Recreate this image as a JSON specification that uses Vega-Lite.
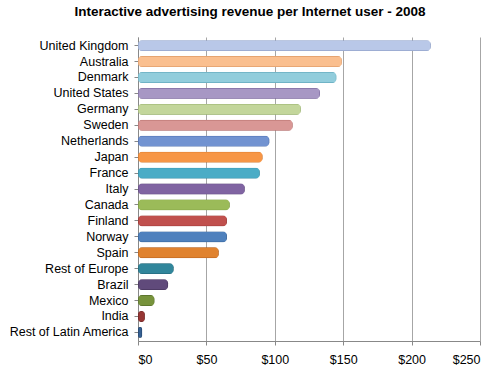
{
  "$schema": "https://vega.github.io/schema/vega-lite/v6.json",
  "autosize": "none",
  "width": 342,
  "height": 304,
  "padding": {"left": 138, "top": 37, "right": 20, "bottom": 32},
  "background": "white",
  "title": {
    "text": "Interactive advertising revenue per Internet user - 2008",
    "font": "Liberation Sans",
    "fontSize": 13.5,
    "fontWeight": "bold",
    "color": "#000000",
    "anchor": "middle",
    "frame": "group",
    "dx": -59,
    "offset": 19
  },
  "data": {
    "values": [
      {"country": "United Kingdom", "revenue": 214, "color": "#B9C8E8", "stroke": "#7F92BD"},
      {"country": "Australia", "revenue": 149, "color": "#FABF8F", "stroke": "#D99460"},
      {"country": "Denmark", "revenue": 145, "color": "#92CDDC", "stroke": "#5BA4B8"},
      {"country": "United States", "revenue": 133, "color": "#A797C4", "stroke": "#6E5C93"},
      {"country": "Germany", "revenue": 119, "color": "#C3D69B", "stroke": "#8FA863"},
      {"country": "Sweden", "revenue": 113, "color": "#D99795", "stroke": "#A8605E"},
      {"country": "Netherlands", "revenue": 96, "color": "#7293D1", "stroke": "#40609E"},
      {"country": "Japan", "revenue": 91, "color": "#F79646", "stroke": "#C46A1E"},
      {"country": "France", "revenue": 89, "color": "#4BACC6", "stroke": "#2B7F96"},
      {"country": "Italy", "revenue": 78, "color": "#8064A2", "stroke": "#553F72"},
      {"country": "Canada", "revenue": 67, "color": "#9BBB59", "stroke": "#6B8A30"},
      {"country": "Finland", "revenue": 65, "color": "#C0504D", "stroke": "#8A2D2B"},
      {"country": "Norway", "revenue": 65, "color": "#4F81BD", "stroke": "#2C5689"},
      {"country": "Spain", "revenue": 59, "color": "#E0822E", "stroke": "#A8571A"},
      {"country": "Rest of Europe", "revenue": 26, "color": "#31869B", "stroke": "#1E5A69"},
      {"country": "Brazil", "revenue": 22, "color": "#604A7B", "stroke": "#3C2D50"},
      {"country": "Mexico", "revenue": 12, "color": "#77933C", "stroke": "#4E6526"},
      {"country": "India", "revenue": 5, "color": "#963634", "stroke": "#62201F"},
      {"country": "Rest of Latin America", "revenue": 3, "color": "#366092", "stroke": "#1F3D60"}
    ]
  },
  "mark": {"type": "bar", "cornerRadius": 4, "strokeWidth": 1},
  "encoding": {
    "y": {
      "field": "country",
      "type": "nominal",
      "sort": null,
      "title": null,
      "scale": {"paddingInner": 0.32, "paddingOuter": 0.2},
      "axis": {
        "labelFont": "Liberation Sans",
        "labelFontSize": 12.5,
        "labelColor": "#000000",
        "labelPadding": 6,
        "domainColor": "#888888",
        "tickColor": "#888888",
        "tickSize": 4,
        "grid": false
      }
    },
    "x": {
      "field": "revenue",
      "type": "quantitative",
      "title": null,
      "scale": {"domain": [0, 250], "nice": false},
      "axis": {
        "values": [0, 50, 100, 150, 200, 250],
        "format": "$,.0f",
        "labelFont": "Liberation Sans",
        "labelFontSize": 12.5,
        "labelColor": "#000000",
        "labelPadding": 8,
        "domainColor": "#888888",
        "tickColor": "#888888",
        "tickSize": 4,
        "grid": true,
        "gridColor": "#A6A6A6",
        "gridWidth": 1
      }
    },
    "color": {"field": "color", "type": "nominal", "scale": null, "legend": null},
    "stroke": {"field": "stroke", "type": "nominal", "scale": null, "legend": null}
  },
  "config": {"view": {"stroke": null}}
}
